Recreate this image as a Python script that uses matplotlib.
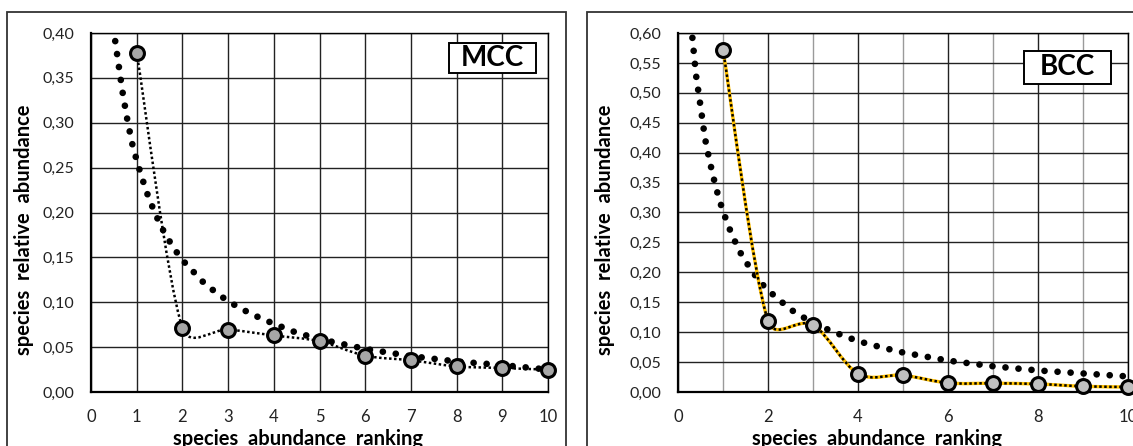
import matplotlib
matplotlib.use("Agg")
import matplotlib.pyplot as plt
from matplotlib.patches import Rectangle, PathPatch
from matplotlib.path import Path
from matplotlib.ticker import FuncFormatter, MultipleLocator
import numpy as np

plt.rcParams.update({
    "font.family": ["Lato", "DejaVu Sans"],
    "font.size": 11,
})

# observed ranks (1..10)
rank = [1, 2, 3, 4, 5, 6, 7, 8, 9, 10]
mcc_obs = [0.378, 0.0713, 0.0695, 0.063, 0.0565, 0.0405, 0.0353, 0.0286, 0.0267, 0.0249]
bcc_obs = [0.572, 0.1187, 0.112, 0.0308, 0.028, 0.0151, 0.0146, 0.0134, 0.0095, 0.0084]

# fitted model curves
mcc_fit_x = [0.53, 0.6, 0.7, 0.8, 0.9, 1.0, 1.2, 1.4, 1.6, 1.8, 2.0, 2.5, 3.0, 3.5,
             4.0, 4.5, 5.0, 6.0, 7.0, 8.0, 9.0, 10.0]
mcc_fit_y = [0.391, 0.366, 0.331, 0.302, 0.277, 0.258, 0.225, 0.199, 0.178, 0.161, 0.147,
             0.120, 0.101, 0.087, 0.076, 0.066, 0.059, 0.048, 0.040, 0.034, 0.030, 0.025]
bcc_fit_x = [0.32, 0.4, 0.5, 0.6, 0.7, 0.8, 0.9, 1.0, 1.2, 1.4, 1.6, 1.8, 2.0, 2.5,
             3.0, 3.5, 4.0, 4.5, 5.0, 6.0, 7.0, 8.0, 9.0, 10.0]
bcc_fit_y = [0.592, 0.53, 0.478, 0.424, 0.387, 0.355, 0.326, 0.302, 0.262, 0.231, 0.207,
             0.186, 0.170, 0.138, 0.115, 0.099, 0.085, 0.075, 0.066, 0.0525, 0.043, 0.036,
             0.031, 0.026]

W, H = 1133, 446
fig = plt.figure(figsize=(W / 100, H / 100), dpi=100)


def smooth_path(xs, ys, sx, sy):
    # excel-like smoothed line: bezier tangents of |P2-P0|/6, capped at half the segment
    pts = np.column_stack([np.asarray(xs) * sx, np.asarray(ys) * sy]).astype(float)
    n = len(pts)
    verts = [pts[0]]
    codes = [Path.MOVETO]
    for i in range(n - 1):
        p0 = pts[max(i - 1, 0)]
        p1 = pts[i]
        p2 = pts[i + 1]
        p3 = pts[min(i + 2, n - 1)]
        half = np.hypot(*(p2 - p1)) / 2
        t1 = (p2 - p0) / 6
        t2 = (p3 - p1) / 6
        for t in (t1, t2):
            m = np.hypot(*t)
            if m > half:
                t *= half / m
        verts += [p1 + t1, p2 - t2, p2]
        codes += [Path.CURVE4] * 3
    verts = np.array(verts) / [sx, sy]
    return Path(verts, codes)


def comma(v, pos):
    return f"{v:.2f}".replace(".", ",")


def panel(rect, frame, fit_x, fit_y, obs, ymax, xstep, label, box, face, yellow,
          xlab_x, ylab_x):
    fr = Rectangle((frame[0], -0.1), frame[1] - frame[0], frame[2] + 0.1,
                   transform=fig.transFigure, fill=False, edgecolor="#333333",
                   linewidth=1.3, clip_on=False)
    fig.patches.append(fr)
    ax = fig.add_axes(rect)
    ax.set_xlim(0, 10)
    ax.set_ylim(0, ymax)
    ax.yaxis.set_major_locator(MultipleLocator(0.05))
    ax.yaxis.set_major_formatter(FuncFormatter(comma))
    ax.xaxis.set_major_locator(MultipleLocator(xstep))
    ax.xaxis.set_minor_locator(MultipleLocator(1))
    ax.grid(True, which="major", color="#222222", linewidth=1.0)
    if xstep > 1:
        ax.grid(True, which="minor", axis="x", color="#9a9a9a", linewidth=1.0)
    ax.set_axisbelow(True)
    ax.tick_params(which="both", length=0)
    ax.tick_params(axis="y", pad=12, labelsize=11.5, colors="#222222")
    ax.tick_params(axis="x", pad=12, labelsize=12, colors="#222222")
    for s in ["left", "bottom"]:
        ax.spines[s].set_linewidth(1.6)
        ax.spines[s].set_color("black")
    for s in ["top", "right"]:
        ax.spines[s].set_linewidth(1.0)
        ax.spines[s].set_color("black")

    ax.plot(fit_x, fit_y, color="black", linewidth=4.8, linestyle=(0, (0.01, 1.95)),
            dash_capstyle="round", zorder=3, clip_on=False)
    sx = rect[2] * W / 10
    sy = rect[3] * H / ymax
    p = smooth_path(rank, obs, sx, sy)
    if yellow:
        ax.add_patch(PathPatch(p, fill=False, edgecolor="#FFC000", linewidth=2.4, zorder=4))
    ax.add_patch(PathPatch(p, fill=False, edgecolor="black", linewidth=1.8,
                           linestyle=(0, (1, 1)), zorder=4))
    ax.plot(rank, obs, linestyle="none", marker="o", markersize=10,
            markerfacecolor=face, markeredgecolor="black", markeredgewidth=2.2,
            zorder=5, clip_on=False)

    ax.add_patch(Rectangle((box[0], box[2]), box[1] - box[0], box[3] - box[2],
                           facecolor="white", edgecolor="black", linewidth=1.4, zorder=6))
    ax.text((box[0] + box[1]) / 2, (box[2] + box[3]) / 2, label, ha="center",
            va="center", fontsize=20, fontweight="bold", zorder=7)
    ax.set_xlabel("species  abundance  ranking", fontsize=14.5, fontweight="bold")
    ax.set_ylabel("species  relative  abundance", fontsize=14.5, fontweight="bold")
    ax.xaxis.set_label_coords(xlab_x, -0.102)
    ax.yaxis.set_label_coords(ylab_x, 0.451)
    return ax


panel([91 / W, 1 - 392 / H, 457 / W, 359 / H], (7 / W, 566 / W, 1 - 12 / H),
      mcc_fit_x, mcc_fit_y, mcc_obs, 0.40, 1, "MCC", (7.83, 9.74, 0.3554, 0.3889),
      "#A6A6A6", False, 0.453, -0.125)
panel([678 / W, 1 - 392 / H, 450 / W, 359 / H], (587 / W, 1.05, 1 - 12 / H),
      bcc_fit_x, bcc_fit_y, bcc_obs, 0.60, 2, "BCC", (7.69, 9.62, 0.515, 0.570),
      "#C0C0C0", True, 0.442, -0.14)

fig.savefig("out.png", dpi=100)
